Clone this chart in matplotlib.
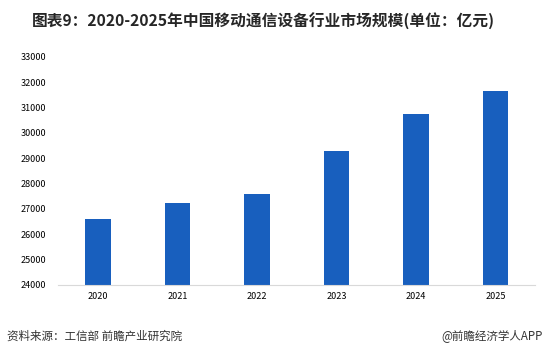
import matplotlib.pyplot as plt

plt.rcParams['font.family'] = ['Noto Sans CJK SC', 'DejaVu Sans']

years = ['2020', '2021', '2022', '2023', '2024', '2025']
market_size = [26600, 27230, 27590, 29280, 30740, 31650]
yticks = list(range(24000, 33001, 1000))

fig = plt.figure(figsize=(5.46, 3.58), dpi=100)
ax = fig.add_axes([0.107, 0.204, 0.873, 0.637])

x = range(len(years))
ax.bar(x, market_size, width=0.32, color='#185FBE', zorder=2)

ax.set_xlim(-0.5, len(years) - 0.5)
ax.set_ylim(24000, 33000)
ax.set_xticks(list(x))
ax.set_xticklabels(years, fontsize=6.5)
ax.set_yticks(yticks)
ax.set_yticklabels([str(v) for v in yticks], fontsize=6.5)
ax.tick_params(axis='both', length=0, colors='#000000')
ax.tick_params(axis='y', pad=9)
ax.tick_params(axis='x', pad=5)

for s in ['top', 'right', 'left']:
    ax.spines[s].set_visible(False)
ax.spines['bottom'].set_color('#D9D9D9')
ax.spines['bottom'].set_linewidth(0.8)

fig.text(0.059, 0.94, '图表9：2020-2025年中国移动通信设备行业市场规模(单位：亿元)',
         fontsize=11.3, fontweight='bold', color='#262626', va='center', ha='left')
fig.text(0.013, 0.062, '资料来源：工信部 前瞻产业研究院', fontsize=8.3,
         color='#333333', va='center', ha='left')
fig.text(0.994, 0.062, '@前瞻经济学人APP', fontsize=8.3,
         color='#333333', va='center', ha='right')

plt.savefig('out.png', dpi=100)
